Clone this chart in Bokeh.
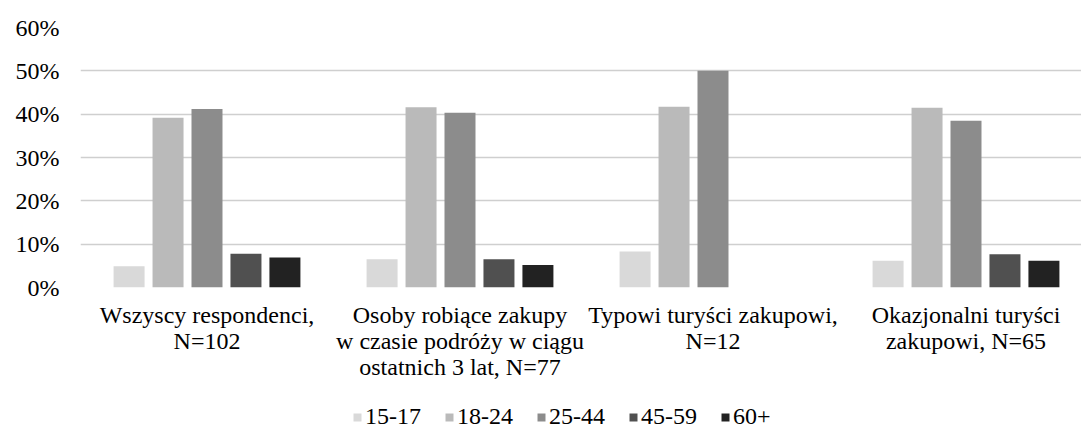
from bokeh.plotting import figure
from bokeh.layouts import column
from bokeh.models import (ColumnDataSource, FixedTicker, NumeralTickFormatter,
                          Legend, LegendItem, Range1d)
from bokeh.transform import dodge
from bokeh.embed import file_html
from bokeh.resources import INLINE

groups = ["Wszyscy respondenci,\nN=102",
          "Osoby robiące zakupy\nw czasie podróży w ciągu\nostatnich 3 lat, N=77",
          "Typowi turyści zakupowi,\nN=12",
          "Okazjonalni turyści\nzakupowi, N=65"]
age_labels = ["15-17", "18-24", "25-44", "45-59", "60+"]
v_15_17 = [0.049, 0.065, 0.083, 0.062]
v_18_24 = [0.392, 0.416, 0.417, 0.415]
v_25_44 = [0.412, 0.403, 0.500, 0.385]
v_45_59 = [0.078, 0.065, 0.0, 0.077]
v_60_plus = [0.069, 0.052, 0.0, 0.062]
series = [v_15_17, v_18_24, v_25_44, v_45_59, v_60_plus]
colors = ["#d9d9d9", "#bababa", "#8c8c8c", "#505050", "#222222"]
y_ticks = [0, 0.1, 0.2, 0.3, 0.4, 0.5, 0.6]

FONT = "'Liberation Serif'"
FS = "24px"
centers = [i + 0.5 for i in range(len(groups))]
data = {"x": centers}
for lab, vals in zip(age_labels, series):
    data[lab] = vals
src = ColumnDataSource(data)

p = figure(width=1081, height=404, output_backend="svg", toolbar_location=None,
           x_range=Range1d(0, 1001 / 253), y_range=Range1d(0, 0.6),
           min_border_left=80, min_border_right=0, min_border_top=27,
           min_border_bottom=117)
p.outline_line_color = None
p.background_fill_color = "white"
p.border_fill_color = "white"

step = 0.154
bw = 0.1225
for k, (lab, col) in enumerate(zip(age_labels, colors)):
    p.vbar(x=dodge("x", (k - 2) * step, range=p.x_range), top=lab, width=bw,
           source=src, fill_color=col, line_color=None)

# axes
p.yaxis.ticker = FixedTicker(ticks=y_ticks)
p.yaxis.formatter = NumeralTickFormatter(format="0%")
p.yaxis.axis_line_color = None
p.yaxis.major_tick_line_color = None
p.yaxis.minor_tick_line_color = None
p.yaxis.major_tick_out = 0
p.yaxis.major_label_standoff = 21
p.yaxis.major_label_text_font = FONT
p.yaxis.major_label_text_font_size = FS
p.yaxis.major_label_text_color = "#000000"

p.xaxis.ticker = FixedTicker(ticks=centers)
p.xaxis.major_label_overrides = {c: g for c, g in zip(centers, groups)}
p.xaxis.axis_line_color = None
p.xaxis.major_tick_line_color = None
p.xaxis.minor_tick_line_color = None
p.xaxis.major_tick_out = 0
p.xaxis.major_label_standoff = 14
p.xaxis.major_label_text_font = FONT
p.xaxis.major_label_text_font_size = FS
p.xaxis.major_label_text_color = "#000000"
p.xaxis.major_label_text_line_height = 1.0

p.xgrid.grid_line_color = None
p.ygrid.grid_line_color = "#cfcfcf"
p.ygrid.grid_line_width = 1.5

# legend strip (separate figure so nothing is clipped by the chart frame)
pl = figure(width=1081, height=26, output_backend="svg", toolbar_location=None,
            min_border_left=80, min_border_right=0, min_border_top=0,
            min_border_bottom=0, x_range=Range1d(0, 1), y_range=Range1d(0, 1))
pl.axis.visible = False
pl.grid.grid_line_color = None
pl.outline_line_color = None
pl.background_fill_color = "white"
pl.border_fill_color = "white"
leg_renderers = []
for lab, col in zip(age_labels, colors):
    r = pl.vbar(x=[10], top=[0], width=0.1, fill_color=col, line_color=None)
    leg_renderers.append(r)

legend = Legend(items=[LegendItem(label=l, renderers=[r]) for l, r in zip(age_labels, leg_renderers)],
                orientation="horizontal", location=(272, 0),
                glyph_width=10, glyph_height=10, label_standoff=3, spacing=23,
                padding=0, margin=0, border_line_color=None, background_fill_alpha=0,
                label_text_font=FONT, label_text_font_size=FS,
                label_text_color="#000000")
pl.add_layout(legend, "center")

layout = column(p, pl, spacing=0)
open("out.html", "w").write(file_html(layout, INLINE))
